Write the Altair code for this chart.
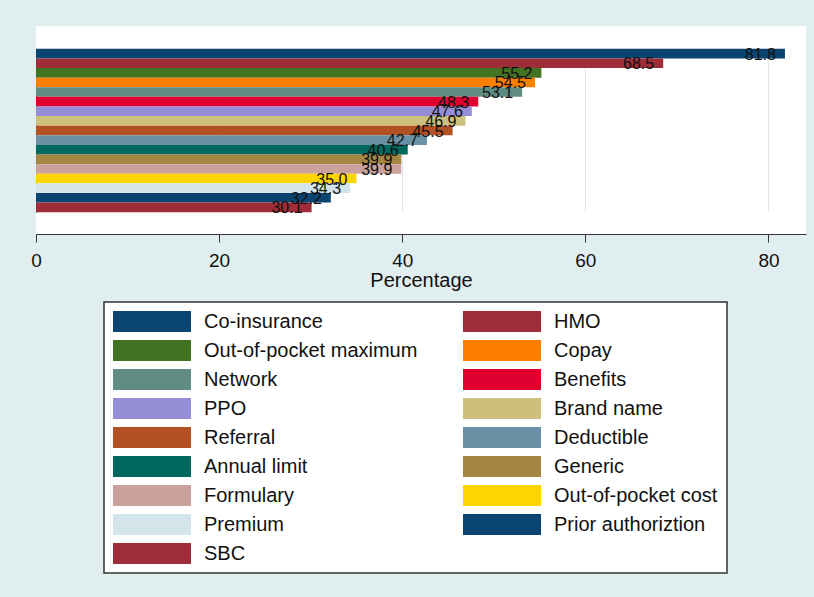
import altair as alt
import pandas as pd

FONT = "Liberation Sans"

categories = [
    "Co-insurance", "HMO", "Out-of-pocket maximum", "Copay", "Network",
    "Benefits", "PPO", "Brand name", "Referral", "Deductible",
    "Annual limit", "Generic", "Formulary", "Out-of-pocket cost",
    "Premium", "Prior authoriztion", "SBC",
]
values = [81.8, 68.5, 55.2, 54.5, 53.1, 48.3, 47.6, 46.9, 45.5, 42.7,
          40.6, 39.9, 39.9, 35.0, 34.3, 32.2, 30.1]
colors = [
    "#0a4470", "#9e2d39", "#427322", "#fd7f00", "#5f8c80",
    "#e0002f", "#958dd5", "#cdc07c", "#b35024", "#6b91a6",
    "#00695e", "#a38641", "#cba19c", "#ffd500", "#d3e5ea",
    "#0a4470", "#9e2d39",
]
x_ticks = [0, 20, 40, 60, 80]
# legend reads row by row: the left column holds every other entry
legend_order = categories[0::2] + categories[1::2]

df = pd.DataFrame({"term": categories, "pct": values})
df["label"] = [f"{v:.1f}" for v in values]

y_scale = alt.Scale(paddingInner=0, paddingOuter=0, range=[22.8, 186.2])

y_enc = alt.Y(
    "term:N", sort=categories, scale=y_scale,
    axis=alt.Axis(labels=False, ticks=False, title=None, grid=False,
                  domain=True, domainColor="#333333", domainWidth=1),
)
x_enc = alt.X(
    "pct:Q", title="Percentage",
    scale=alt.Scale(domain=[0, 84.1], nice=False, zero=True),
    axis=alt.Axis(values=x_ticks, grid=True, gridColor="#dce8ec", gridWidth=1,
                  tickSize=8, tickColor="#333333", tickWidth=1,
                  domainColor="#333333", domainWidth=1, labelFlush=False,
                  labelFont=FONT, labelFontSize=19, labelColor="#111111",
                  labelPadding=9, titleFont=FONT, titleFontSize=20,
                  titleFontWeight="normal", titleColor="#111111", titlePadding=0),
)

bars = alt.Chart(df).mark_bar().encode(
    x=x_enc,
    y=y_enc,
    color=alt.Color(
        "term:N",
        scale=alt.Scale(domain=categories, range=colors),
        legend=alt.Legend(
            title=None, orient="none", legendX=68, legendY=276, columns=2,
            values=legend_order,
            symbolType="M-1,-0.27H1V0.27H-1Z", symbolSize=6084,
            symbolStrokeWidth=0, symbolOpacity=1, clipHeight=21,
            labelFont=FONT, labelFontSize=20, labelColor="#111111",
            labelOffset=13, labelLimit=400, columnPadding=45, rowPadding=8,
            padding=9, strokeColor="#333333", fillColor="white",
        ),
    ),
)

labels = alt.Chart(df).mark_text(
    align="right", baseline="middle", dx=-9, dy=1,
    font=FONT, fontSize=16, color="#111111",
).encode(x="pct:Q", y=alt.Y("term:N", sort=categories, scale=y_scale), text="label:N")

chart = (bars + labels).properties(
    width=770, height=208,
    background="#e1eeef",
    padding={"left": 36, "top": 26, "right": 8, "bottom": 363},
    autosize=alt.AutoSizeParams(type="none"),
).configure_view(fill="white", stroke=None).configure_legend(strokeWidth=1.5)

chart.save("out.html", embed_options={"renderer": "svg", "actions": False})
